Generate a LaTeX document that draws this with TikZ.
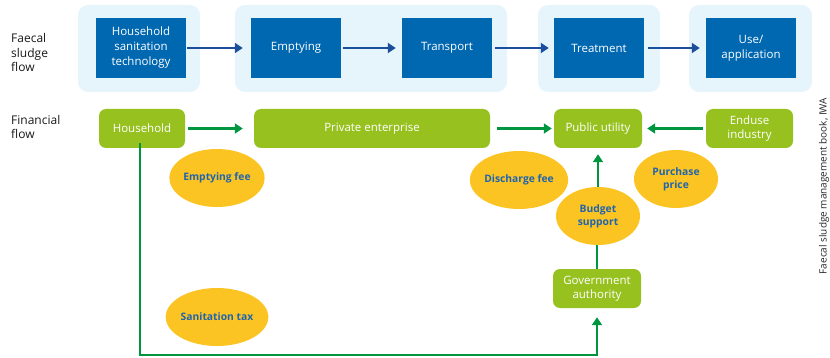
\documentclass[tikz,border=0pt]{standalone}
\usepackage{fontspec}
\setmainfont{Open Sans}
\usetikzlibrary{arrows.meta,shapes.geometric}
\definecolor{lightbg}{HTML}{E6F4FC}
\definecolor{bluebox}{HTML}{0067B1}
\definecolor{bluearrow}{HTML}{1B4F9C}
\definecolor{greenbox}{HTML}{97C11F}
\definecolor{greenarrow}{HTML}{00963F}
\definecolor{ellfill}{HTML}{FBC423}
\definecolor{elltext}{HTML}{1F64AE}
\tikzset{
  bggroup/.style={fill=lightbg, draw=none, rounded corners=10pt},
  bluestep/.style={fill=bluebox, draw=none, text=white, minimum width=90pt, minimum height=60pt, align=center, inner sep=0pt, font=\fontsize{11.5}{15}\selectfont},
  greenstep/.style={fill=greenbox, draw=none, text=white, minimum height=39pt, rounded corners=7pt, align=center, inner sep=0pt, font=\fontsize{11.5}{13.5}\selectfont},
  money/.style={ellipse, fill=ellfill, draw=none, text=elltext, minimum width=84pt, minimum height=58pt, inner sep=0pt, align=center, font=\bfseries\fontsize{10.3}{13}\selectfont},
  rowlabel/.style={anchor=west, align=left, inner sep=0pt, text=black!90, font=\fontsize{12}{14.5}\selectfont},
  bluearr/.style={-{Triangle[length=8pt,width=10pt]}, draw=bluearrow, line width=2.2pt},
  greenarr/.style={-{Triangle[length=8pt,width=10pt]}, draw=greenarrow, line width=2.2pt},
  greenline/.style={draw=greenarrow, line width=2.2pt},
}
\begin{document}
\begin{tikzpicture}[x=1pt,y=-1pt]
\useasboundingbox (0,0) rectangle (830,358);
% background groups
\fill[bggroup] (78,5) rectangle (200,92);
\fill[bggroup] (235,5) rectangle (507,92);
\fill[bggroup] (538,5) rectangle (660,92);
\fill[bggroup] (689,5) rectangle (812,92);
% row labels
\node[rowlabel] (lab1) at (11,53) {Faecal\\sludge\\flow};
\node[rowlabel] (lab2) at (11,127) {Financial\\flow};
% top row
\node[bluestep] (hst) at (141,48) {Household\\sanitation\\technology};
\node[bluestep] (emp) at (296,48) {Emptying};
\node[bluestep] (tra) at (447,48) {Transport};
\node[bluestep] (tre) at (599,48) {Treatment};
\node[bluestep] (use) at (751,48) {Use/\\application};
\draw[bluearr, shorten <=1pt, shorten >=8pt] (hst) -- (emp);
\draw[bluearr, shorten <=2pt, shorten >=6pt] (emp) -- (tra);
\draw[bluearr, shorten <=3pt, shorten >=5pt] (tra) -- (tre);
\draw[bluearr, shorten <=4pt, shorten >=6pt] (tre) -- (use);
% financial row
\node[greenstep, minimum width=86pt] (hh) at (142,128.5) {Household};
\node[greenstep, minimum width=236pt] (pe) at (372,128.5) {Private enterprise};
\node[greenstep, minimum width=88pt] (pu) at (598,128.5) {Public utility};
\node[greenstep, minimum width=87pt] (ei) at (749.5,128.5) {Enduse\\industry};
\node[greenstep, minimum width=88pt] (gov) at (597,288.5) {Government\\authority};
% money ellipses
\node[money] (ef) at (217,178) {Emptying fee};
\node[money] (df) at (519,180) {Discharge fee};
\node[money] (pp) at (676,179) {Purchase\\price};
\node[money] (bs) at (598,216) {Budget\\support};
\node[money] (st) at (217,317) {Sanitation tax};
% green connectors
\draw[greenarr, shorten <=3pt, shorten >=11pt] (hh) -- (pe);
\draw[greenarr, shorten <=7pt, shorten >=2pt] (pe) -- (pu);
\draw[greenarr, shorten <=3pt, shorten >=5pt] (ei) -- (pu);
\draw[greenarr, shorten >=6pt] (bs.north) -- (bs.north |- pu.south);
\draw[greenline] (gov.north) -- (gov.north |- bs.south);
\coordinate (corner) at (140,355);
\draw[greenarr, shorten >=9pt] ([yshift=5pt]hh.south -| corner) -- (corner) -| (gov.south);
% source note
\node[rotate=90, anchor=base, inner sep=0pt, text=black!85, font=\fontsize{10}{12}\selectfont] (src) at (826.5,186) {Faecal sludge management book, IWA};
\end{tikzpicture}
\end{document}
